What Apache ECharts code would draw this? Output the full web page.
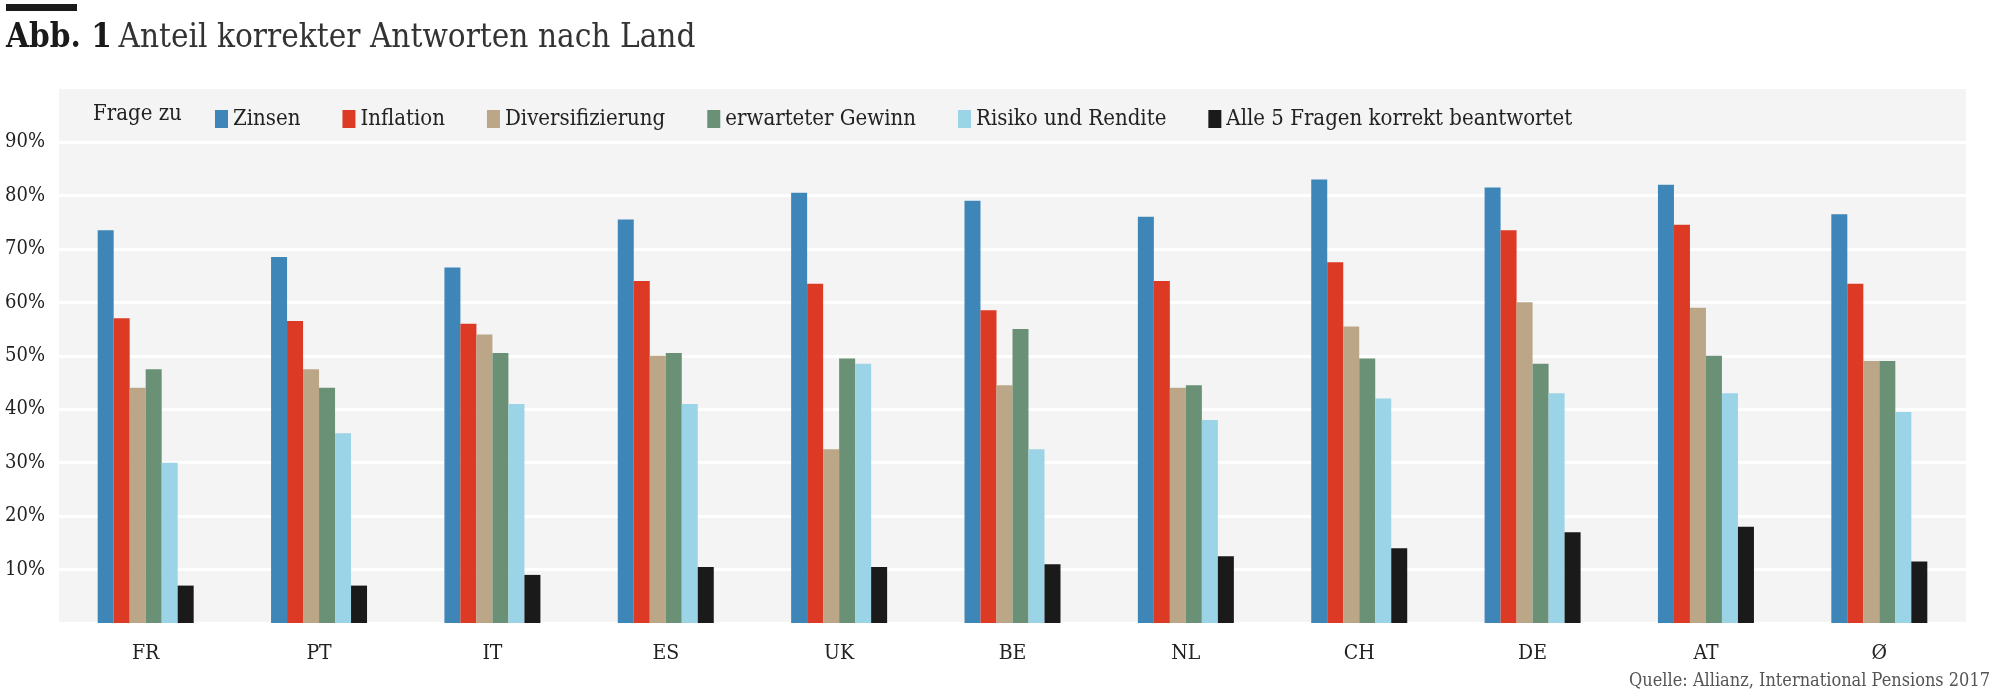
<!DOCTYPE html>
<html><head><meta charset="utf-8">
<script src="https://cdn.jsdelivr.net/npm/echarts@6/dist/echarts.min.js"></script>
<style>html,body{margin:0;background:#fff}#c{width:2000px;height:696px}</style>
</head><body><div id="c"></div>
<script>
const countries = ['FR', 'PT', 'IT', 'ES', 'UK', 'BE', 'NL', 'CH', 'DE', 'AT', 'Ø'];
const zinsen = [73.5, 68.5, 66.5, 75.5, 80.5, 79, 76, 83, 81.5, 82, 76.5];
const inflation = [57, 56.5, 56, 64, 63.5, 58.5, 64, 67.5, 73.5, 74.5, 63.5];
const divers = [44, 47.5, 54, 50, 32.5, 44.5, 44, 55.5, 60, 59, 49];
const gewinn = [47.5, 44, 50.5, 50.5, 49.5, 55, 44.5, 49.5, 48.5, 50, 49];
const risiko = [30, 35.5, 41, 41, 48.5, 32.5, 38, 42, 43, 43, 39.5];
const alle5 = [7, 7, 9, 10.5, 10.5, 11, 12.5, 14, 17, 18, 11.5];

const names = ['Zinsen', 'Inflation', 'Diversifizierung', 'erwarteter Gewinn', 'Risiko und Rendite', 'Alle 5 Fragen korrekt beantwortet'];
const colors = ['#3f86b8', '#dd3a25', '#bca688', '#6a9176', '#9ad4e6', '#1a1a1a'];
const values = [zinsen, inflation, divers, gewinn, risiko, alle5];
const font = '"DejaVu Serif Condensed", "Liberation Serif", serif';

const chart = echarts.init(document.getElementById('c'));
chart.setOption({
    animation: false,
    textStyle: { fontFamily: font },
    graphic: [
        { type: 'rect', shape: { x: 6, y: 4, width: 71, height: 7 }, style: { fill: '#1a1a1a' } },
        { type: 'rect', z: -10, shape: { x: 59, y: 89, width: 1907, height: 534 }, style: { fill: '#f4f4f4' } },
        { type: 'text', left: 6, top: 22, style: { text: '{b|Abb. 1}  {l|Anteil korrekter Antworten nach Land}', rich: {
            b: { fontSize: 33, fontWeight: 'bold', fontFamily: font, fill: '#1a1a1a' },
            l: { fontSize: 33, fontFamily: font, fill: '#333' } } } },
        { type: 'text', left: 93, top: 103, style: { text: 'Frage zu', font: '22px ' + font, fill: '#222' } },
        { type: 'text', right: 10, top: 672, style: { text: 'Quelle: Allianz, International Pensions 2017', font: '18px ' + font, fill: '#555' } },
    ],
    legend: {
        left: 210, top: 103, itemWidth: 13, itemHeight: 18, itemGap: 42, icon: 'rect',
        textStyle: { fontSize: 22, fontFamily: font, color: '#222' },
        data: names,
    },
    grid: { left: 59, right: 34, top: 142, bottom: 73 },
    xAxis: {
        type: 'category', data: countries,
        axisLine: { show: false }, axisTick: { show: false },
        axisLabel: { fontSize: 21, color: '#222', margin: 20, fontFamily: font },
    },
    yAxis: {
        type: 'value', min: 0, max: 90, interval: 10,
        axisLabel: { formatter: v => v === 0 ? '' : v + '%', fontSize: 20, color: '#222', align: 'left', margin: 54, fontFamily: font },
        splitLine: { lineStyle: { color: '#fff', width: 3 } },
    },
    series: names.map((n, i) => ({
        name: n, type: 'bar', data: values[i], barWidth: 16, barGap: '0%',
        itemStyle: { color: colors[i] },
    })),
});
</script></body></html>
